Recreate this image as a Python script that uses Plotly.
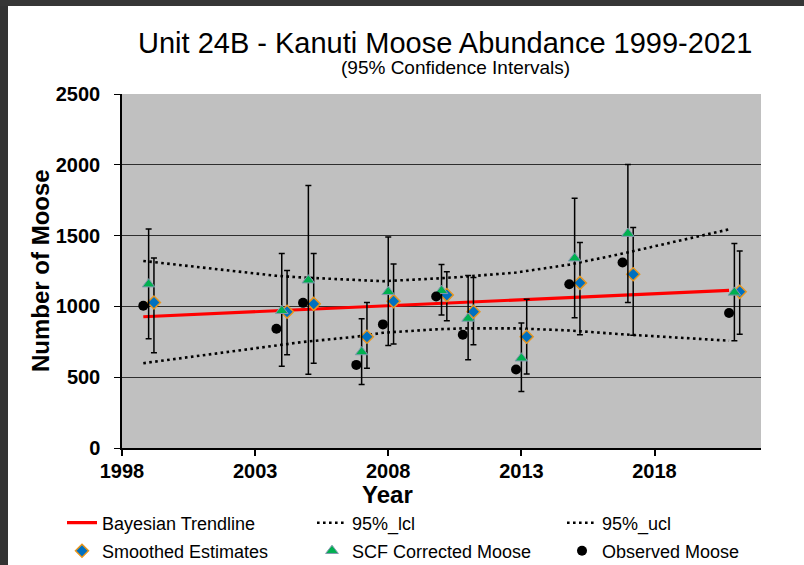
"""Unit 24B - Kanuti moose abundance, 1999-2021, with 95% confidence intervals."""
import plotly.graph_objects as go

# survey years
years = [1999, 2004, 2005, 2007, 2008, 2010, 2011, 2013, 2015, 2017, 2021]

# observed moose counts
observed = [1004, 842, 1025, 587, 873, 1070, 800, 554, 1157, 1310, 953]

# SCF corrected moose and 95% CI
scf = [1157, 969, 1185, 678, 1103, 1110, 915, 634, 1340, 1514, 1099]
scf_lo = [772, 577, 521, 448, 723, 939, 624, 399, 920, 1028, 758]
scf_hi = [1547, 1373, 1854, 913, 1490, 1296, 1218, 882, 1763, 2002, 1444]

# smoothed (Bayesian) estimates and 95% CI
smoothed = [1028, 962, 1018, 786, 1037, 1080, 962, 786, 1166, 1227, 1103]
smoothed_lo = [673, 659, 598, 563, 734, 899, 730, 523, 800, 796, 803]
smoothed_hi = [1342, 1253, 1373, 1028, 1300, 1244, 1204, 1051, 1451, 1558, 1392]

# Bayesian trendline and its 95% bounds
trend = [927, 969, 978, 995, 1003, 1020, 1029, 1046, 1063, 1080, 1113]
lcl = [599, 720, 749, 786, 814, 838, 845, 845, 830, 803, 758]
ucl = [1321, 1216, 1204, 1185, 1178, 1197, 1209, 1239, 1295, 1373, 1544]

FONT = "Liberation Sans, Arial, sans-serif"
W, H = 804, 565
PLOT_L, PLOT_R, PLOT_T, PLOT_B = 122, 761, 94, 448


def px_x(x):
    return (x - PLOT_L) / (PLOT_R - PLOT_L)


def px_y(y):
    return (PLOT_B - y) / (PLOT_B - PLOT_T)


x_left = [y - 0.2 for y in years]
x_right = [y + 0.2 for y in years]

fig = go.Figure()

fig.add_trace(go.Scatter(
    x=x_left, y=trend, mode="lines", name="Bayesian Trendline",
    line=dict(color="#FF0000", width=3.2), legend="legend",
))
for name, vals in (("95%_lcl", lcl), ("95%_ucl", ucl)):
    fig.add_trace(go.Scatter(
        x=x_left, y=vals, mode="lines", name=name,
        line=dict(color="black", width=2.6, dash="2.6px,3.4px"), legend="legend",
    ))

fig.add_trace(go.Scatter(
    x=x_right, y=smoothed, mode="markers", name="Smoothed Estimates",
    marker=dict(symbol="diamond", size=10, color="#0070C0",
                line=dict(color="#E8961E", width=1.5)),
    error_y=dict(type="data", symmetric=False,
                 array=[h - v for h, v in zip(smoothed_hi, smoothed)],
                 arrayminus=[v - l for v, l in zip(smoothed, smoothed_lo)],
                 color="black", thickness=1.5, width=3),
    legend="legend2",
))
fig.add_trace(go.Scatter(
    x=years, y=scf, mode="markers", name="SCF Corrected Moose",
    marker=dict(symbol="triangle-up", size=11, color="#00B050",
                line=dict(color="#8497B0", width=1)),
    error_y=dict(type="data", symmetric=False,
                 array=[h - v for h, v in zip(scf_hi, scf)],
                 arrayminus=[v - l for v, l in zip(scf, scf_lo)],
                 color="black", thickness=1.5, width=3),
    legend="legend2",
))
fig.add_trace(go.Scatter(
    x=x_left, y=observed, mode="markers", name="Observed Moose",
    marker=dict(symbol="circle", size=10, color="black"),
    legend="legend2",
))

legend_style = dict(
    orientation="h", xanchor="left", yanchor="middle",
    x=px_x(62), entrywidth=205, entrywidthmode="pixels",
    font=dict(family=FONT, size=18, color="black"),
    bgcolor="rgba(0,0,0,0)", traceorder="normal",
)

fig.update_layout(
    width=W, height=H,
    margin=dict(l=PLOT_L, r=W - PLOT_R, t=PLOT_T, b=H - PLOT_B, autoexpand=False),
    paper_bgcolor="white",
    plot_bgcolor="#C0C0C0",
    font=dict(family=FONT, color="black"),
    showlegend=True,
    legend=dict(legend_style, y=px_y(523)),
    legend2=dict(legend_style, y=px_y(551)),
    xaxis=dict(
        range=[1998, 2022], tick0=1998, dtick=5,
        showgrid=False, zeroline=False,
        showline=True, linecolor="black", linewidth=1.5,
        ticks="outside", ticklen=6, tickcolor="black", tickwidth=1.5,
        tickfont=dict(size=20, weight="bold"), ticklabelstandoff=-2,
    ),
    yaxis=dict(
        range=[0, 2500], tick0=0, dtick=500,
        showgrid=True, gridcolor="#2E2E2E", gridwidth=1.3, zeroline=False,
        showline=True, linecolor="black", linewidth=1.5,
        ticks="outside", ticklen=6, tickcolor="black", tickwidth=1.3,
        tickfont=dict(size=20, weight="bold"), ticklabelstandoff=10,
    ),
    annotations=[
        dict(text="Unit 24B - Kanuti Moose Abundance 1999-2021",
             x=px_x(444.5), y=px_y(43), xref="paper", yref="paper",
             xanchor="center", yanchor="middle", showarrow=False,
             font=dict(size=29)),
        dict(text="(95% Confidence Intervals)",
             x=px_x(455), y=px_y(68), xref="paper", yref="paper",
             xanchor="center", yanchor="middle", showarrow=False,
             font=dict(size=19)),
        dict(text="Number of Moose", textangle=-90,
             x=px_x(40), y=px_y(271), xref="paper", yref="paper",
             xanchor="center", yanchor="middle", showarrow=False,
             font=dict(size=24, weight="bold")),
        dict(text="Year",
             x=px_x(387), y=px_y(494), xref="paper", yref="paper",
             xanchor="center", yanchor="middle", showarrow=False,
             font=dict(size=24, weight="bold")),
    ],
    shapes=[
        # dark window frame on the left and top edges
        dict(type="rect", xref="paper", yref="paper",
             x0=px_x(0), x1=px_x(8), y0=px_y(H), y1=px_y(0),
             fillcolor="#333333", line=dict(width=0), layer="above"),
        dict(type="rect", xref="paper", yref="paper",
             x0=px_x(0), x1=px_x(W), y0=px_y(6), y1=px_y(0),
             fillcolor="#363636", line=dict(width=0), layer="above"),
    ],
)

# drop the page's default body margin so the figure sits at the window origin
fig.write_html(
    "out.html",
    config={"displayModeBar": False},
    post_script="document.body.style.margin='0';document.body.style.overflow='hidden';",
)
